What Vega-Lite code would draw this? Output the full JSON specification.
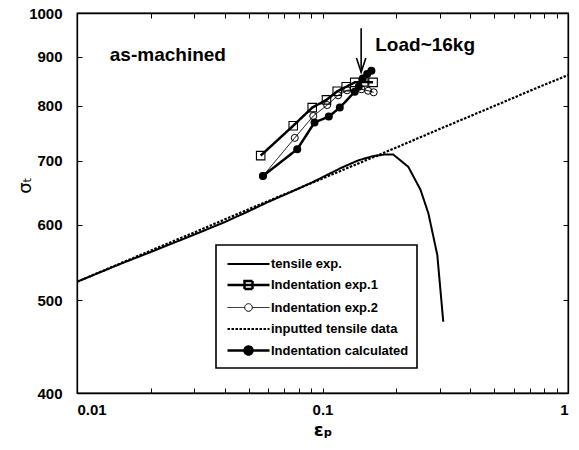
{
  "$schema": "https://vega.github.io/schema/vega-lite/v6.json",
  "width": 491,
  "height": 380,
  "autosize": "none",
  "padding": {"left": 77, "top": 13, "right": 11, "bottom": 57},
  "background": "white",
  "config": {
    "view": {"stroke": "black", "strokeWidth": 1.3},
    "axis": {
      "grid": false,
      "labelFont": "Liberation Sans",
      "labelFontWeight": "bold",
      "labelFontSize": 15,
      "labelColor": "black",
      "tickColor": "black",
      "domainColor": "black",
      "domainWidth": 1.3,
      "tickWidth": 1,
      "titleColor": "black"
    }
  },
  "resolve": {"axis": {"x": "independent", "y": "independent"}},
  "datasets": {
    "lines": [
      {"x": 0.01, "y": 523, "series": "tensile exp."},
      {"x": 0.015, "y": 546, "series": "tensile exp."},
      {"x": 0.02, "y": 562, "series": "tensile exp."},
      {"x": 0.03, "y": 586, "series": "tensile exp."},
      {"x": 0.04, "y": 604, "series": "tensile exp."},
      {"x": 0.05, "y": 620, "series": "tensile exp."},
      {"x": 0.06, "y": 634, "series": "tensile exp."},
      {"x": 0.07, "y": 645, "series": "tensile exp."},
      {"x": 0.08, "y": 655, "series": "tensile exp."},
      {"x": 0.09, "y": 664, "series": "tensile exp."},
      {"x": 0.1, "y": 673, "series": "tensile exp."},
      {"x": 0.12, "y": 689, "series": "tensile exp."},
      {"x": 0.14, "y": 701, "series": "tensile exp."},
      {"x": 0.16, "y": 708, "series": "tensile exp."},
      {"x": 0.18, "y": 711, "series": "tensile exp."},
      {"x": 0.194, "y": 711, "series": "tensile exp."},
      {"x": 0.2237, "y": 690, "series": "tensile exp."},
      {"x": 0.2507, "y": 653, "series": "tensile exp."},
      {"x": 0.2699, "y": 617, "series": "tensile exp."},
      {"x": 0.2935, "y": 558, "series": "tensile exp."},
      {"x": 0.3104, "y": 475, "series": "tensile exp."},
      {"x": 0.056, "y": 709, "series": "Indentation exp.1"},
      {"x": 0.076, "y": 762, "series": "Indentation exp.1"},
      {"x": 0.0908, "y": 796, "series": "Indentation exp.1"},
      {"x": 0.1038, "y": 811, "series": "Indentation exp.1"},
      {"x": 0.1148, "y": 828, "series": "Indentation exp.1"},
      {"x": 0.1249, "y": 837, "series": "Indentation exp.1"},
      {"x": 0.1353, "y": 846, "series": "Indentation exp.1"},
      {"x": 0.1472, "y": 847, "series": "Indentation exp.1"},
      {"x": 0.1607, "y": 846, "series": "Indentation exp.1"},
      {"x": 0.0572, "y": 675, "series": "Indentation exp.2"},
      {"x": 0.0771, "y": 740, "series": "Indentation exp.2"},
      {"x": 0.0917, "y": 780, "series": "Indentation exp.2"},
      {"x": 0.1045, "y": 801, "series": "Indentation exp.2"},
      {"x": 0.1158, "y": 820, "series": "Indentation exp.2"},
      {"x": 0.126, "y": 830, "series": "Indentation exp.2"},
      {"x": 0.144, "y": 832, "series": "Indentation exp.2"},
      {"x": 0.1534, "y": 829, "series": "Indentation exp.2"},
      {"x": 0.1616, "y": 826, "series": "Indentation exp.2"},
      {"x": 0.01, "y": 523, "series": "inputted tensile data"},
      {"x": 0.02, "y": 564, "series": "inputted tensile data"},
      {"x": 0.03, "y": 589, "series": "inputted tensile data"},
      {"x": 0.05, "y": 623, "series": "inputted tensile data"},
      {"x": 0.1, "y": 671, "series": "inputted tensile data"},
      {"x": 0.2, "y": 723, "series": "inputted tensile data"},
      {"x": 0.3, "y": 756, "series": "inputted tensile data"},
      {"x": 0.5, "y": 799, "series": "inputted tensile data"},
      {"x": 0.7, "y": 829, "series": "inputted tensile data"},
      {"x": 1, "y": 861, "series": "inputted tensile data"},
      {"x": 0.0572, "y": 675, "series": "Indentation calculated"},
      {"x": 0.0789, "y": 720, "series": "Indentation calculated"},
      {"x": 0.0928, "y": 768, "series": "Indentation calculated"},
      {"x": 0.1061, "y": 779, "series": "Indentation calculated"},
      {"x": 0.1176, "y": 796, "series": "Indentation calculated"},
      {"x": 0.1353, "y": 827, "series": "Indentation calculated"},
      {"x": 0.1405, "y": 837, "series": "Indentation calculated"},
      {"x": 0.1459, "y": 854, "series": "Indentation calculated"},
      {"x": 0.152, "y": 863, "series": "Indentation calculated"},
      {"x": 0.1582, "y": 870, "series": "Indentation calculated"}
    ],
    "arrow": [{"x": 0.1437, "y": 964, "y2": 867}],
    "notes": [
      {"x": 0.0136, "y": 904, "text": "as-machined"},
      {"x": 0.164, "y": 926, "text": "Load~16kg"}
    ]
  },
  "layer": [
    {
      "data": {"name": "lines"},
      "mark": {"type": "line", "clip": true},
      "encoding": {
        "x": {
          "field": "x", "type": "quantitative",
          "scale": {"type": "log", "domain": [0.01, 1], "nice": false},
          "axis": {
            "orient": "bottom",
            "values": [0.01,0.02,0.03,0.04,0.05,0.06,0.07,0.08,0.09,0.1,0.2,0.3,0.4,0.5,0.6,0.7,0.8,0.9,1],
            "labelExpr": "datum.value == 0.01 ? '0.01' : datum.value == 0.1 ? '0.1' : datum.value == 1 ? '1' : ''",
            "tickSize": -5,
            "labelPadding": 14,
            "title": "εₚ",
            "titleFont": "DejaVu Sans",
            "titleFontSize": 18,
            "titleFontWeight": "bold",
            "titlePadding": 4
          }
        },
        "y": {
          "field": "y", "type": "quantitative",
          "scale": {"type": "log", "domain": [400, 1000], "nice": false},
          "axis": {
            "orient": "left",
            "values": [400,500,600,700,800,900,1000],
            "format": "d",
            "tickSize": -5,
            "labelPadding": 20,
            "title": "σₜ",
            "titleFont": "DejaVu Sans",
            "titleFontSize": 18,
            "titleFontWeight": "normal",
            "titleX": -52,
            "titleY": 172,
            "titleAlign": "center",
            "titleBaseline": "middle"
          }
        },
        "color": {
          "field": "series", "type": "nominal",
          "scale": {
            "domain": ["tensile exp.", "Indentation exp.1", "Indentation exp.2", "inputted tensile data", "Indentation calculated"],
            "range": ["black", "black", "black", "black", "black"]
          },
          "legend": {
            "title": null,
            "orient": "none",
            "legendX": 139,
            "legendY": 232,
            "padding": 8,
            "fillColor": "white",
            "strokeColor": "black",
            "symbolSize": 400,
            "rowPadding": 2.5,
            "labelOffset": 24,
            "labelLimit": 139,
            "labelFont": "Liberation Sans",
            "labelFontWeight": "bold",
            "labelFontSize": 13,
            "labelColor": "black",
            "encode": {
              "legend": {"update": {"strokeWidth": {"value": 1.6}}},
              "symbols": {
                "update": {
                  "shape": {"signal": "datum.value === 'tensile exp.' || datum.value === 'inputted tensile data' ? 'M-0.8,0H3.4' : datum.value === 'Indentation exp.1' ? 'M-0.8,0H3.4M0.9,-0.4H1.7V0.4H0.9Z' : datum.value === 'Indentation exp.2' ? 'M-0.8,0H0.92M1.68,0H3.4M0.92,0A0.38,0.38,0,1,1,1.68,0A0.38,0.38,0,1,1,0.92,0Z' : 'M-0.8,0H3.4M0.9,0A0.4,0.4,0,1,1,1.7,0A0.4,0.4,0,1,1,0.9,0Z'"},
                  "fill": {"signal": "datum.value === 'Indentation calculated' ? 'black' : 'transparent'"},
                  "stroke": {"value": "black"},
                  "strokeWidth": {"signal": "datum.value === 'Indentation exp.2' ? 1 : datum.value === 'tensile exp.' ? 1.6 : 2"},
                  "strokeDash": {"signal": "datum.value === 'inputted tensile data' ? [2, 1.5] : [1, 0]"},
                  "opacity": {"value": 1}
                }
              }
            }
          }
        },
        "strokeDash": {
          "field": "series", "type": "nominal",
          "scale": {
            "domain": ["tensile exp.", "Indentation exp.1", "Indentation exp.2", "inputted tensile data", "Indentation calculated"],
            "range": [[1, 0], [1, 0], [1, 0], [2.5, 1.5], [1, 0]]
          },
          "legend": null
        },
        "strokeWidth": {
          "field": "series", "type": "nominal",
          "scale": {
            "type": "ordinal",
            "domain": ["tensile exp.", "Indentation exp.1", "Indentation exp.2", "inputted tensile data", "Indentation calculated"],
            "range": [2, 2.5, 1, 2.2, 2.5]
          },
          "legend": null
        }
      }
    },
    {
      "data": {"name": "lines"},
      "transform": [{"filter": "datum.series === 'Indentation exp.1'"}],
      "mark": {"type": "point", "shape": "square", "size": 72, "stroke": "black", "strokeWidth": 1.1, "filled": false, "opacity": 1},
      "encoding": {
        "x": {"field": "x", "type": "quantitative", "axis": null},
        "y": {"field": "y", "type": "quantitative", "axis": null}
      }
    },
    {
      "data": {"name": "lines"},
      "transform": [{"filter": "datum.series === 'Indentation exp.2'"}],
      "mark": {"type": "point", "shape": "circle", "size": 50, "stroke": "black", "strokeWidth": 1, "filled": false, "opacity": 1},
      "encoding": {
        "x": {"field": "x", "type": "quantitative", "axis": null},
        "y": {"field": "y", "type": "quantitative", "axis": null}
      }
    },
    {
      "data": {"name": "lines"},
      "transform": [{"filter": "datum.series === 'Indentation calculated'"}],
      "mark": {"type": "point", "shape": "circle", "size": 64, "color": "black", "filled": true, "opacity": 1},
      "encoding": {
        "x": {"field": "x", "type": "quantitative", "axis": null},
        "y": {"field": "y", "type": "quantitative", "axis": null}
      }
    },
    {
      "data": {"name": "arrow"},
      "mark": {"type": "rule", "color": "black", "strokeWidth": 1.6},
      "encoding": {
        "x": {"field": "x", "type": "quantitative", "axis": null},
        "y": {"field": "y", "type": "quantitative", "axis": null},
        "y2": {"field": "y2"}
      }
    },
    {
      "data": {"name": "arrow"},
      "mark": {"type": "point", "shape": "M-1,-3L0,0L1,-3", "size": 88, "stroke": "black", "strokeWidth": 1.6, "filled": false, "opacity": 1},
      "encoding": {
        "x": {"field": "x", "type": "quantitative", "axis": null},
        "y": {"field": "y2", "type": "quantitative", "axis": null}
      }
    },
    {
      "data": {"name": "notes"},
      "mark": {"type": "text", "align": "left", "baseline": "middle", "font": "Liberation Sans", "fontWeight": "bold", "fontSize": 19, "color": "black"},
      "encoding": {
        "x": {
          "field": "x", "type": "quantitative",
          "axis": {
            "orient": "top",
            "values": [0.01,0.02,0.03,0.04,0.05,0.06,0.07,0.08,0.09,0.1,0.2,0.3,0.4,0.5,0.6,0.7,0.8,0.9,1],
            "labels": false,
            "tickSize": -5,
            "title": null
          }
        },
        "y": {
          "field": "y", "type": "quantitative",
          "axis": {
            "orient": "right",
            "values": [400,500,600,700,800,900,1000],
            "labels": false,
            "tickSize": -5,
            "title": null
          }
        },
        "text": {"field": "text"}
      }
    }
  ]
}
